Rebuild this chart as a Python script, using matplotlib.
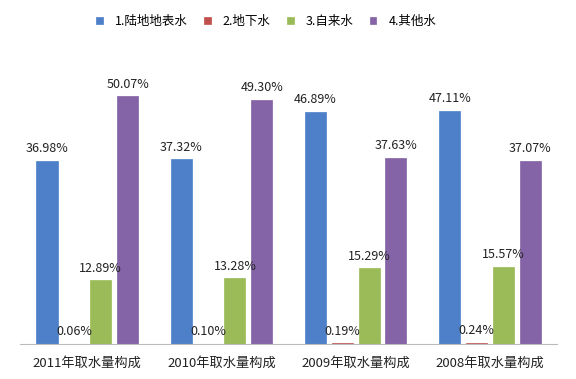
import numpy as np
import matplotlib.pyplot as plt

plt.rcParams['font.family'] = ['Noto Sans CJK SC', 'DejaVu Sans']

# data
categories = ['2011年取水量构成', '2010年取水量构成', '2009年取水量构成', '2008年取水量构成']
series_names = ['1.陆地地表水', '2.地下水', '3.自来水', '4.其他水']
surface = [36.98, 37.32, 46.89, 47.11]
ground = [0.06, 0.10, 0.19, 0.24]
tap = [12.89, 13.28, 15.29, 15.57]
other = [50.07, 49.30, 37.63, 37.07]
colors = ['#4D80C8', '#C0504D', '#9BBB59', '#8464A6']

values = [surface, ground, tap, other]

fig = plt.figure(figsize=(5.76, 3.79), dpi=100)
ax = fig.add_axes([0.035, 0.092, 0.932, 0.784])

x = np.arange(len(categories))
offsets = [-0.3, -0.1, 0.1, 0.3]
for vals, name, col, off in zip(values, series_names, colors, offsets):
    bars = ax.bar(x + off, vals, width=0.157, color=col, label=name,
                  edgecolor=col, linewidth=0.5)
    for b, v in zip(bars, vals):
        ax.annotate('%.2f%%' % v, (b.get_x() + b.get_width() / 2, v),
                    xytext=(0, 4), textcoords='offset points',
                    ha='center', va='bottom', fontsize=9, color='#222222')

ax.set_xlim(-0.5, 3.5)
ax.set_ylim(0, 60)
ax.set_xticks(x)
ax.set_xticklabels(categories, fontsize=9.5, color='#222222')
ax.tick_params(axis='x', length=0, pad=9)
ax.set_yticks([])
for s in ['top', 'left', 'right']:
    ax.spines[s].set_visible(False)
ax.spines['bottom'].set_color('#BBBBBB')
ax.spines['bottom'].set_linestyle((0, (2, 1)))

fig.legend(loc='upper center', bbox_to_anchor=(0.462, 0.99), ncol=4, frameon=False,
           fontsize=9, handlelength=0.55, handleheight=0.55, columnspacing=1.3,
           handletextpad=0.95)

plt.savefig('out.png', dpi=100)
